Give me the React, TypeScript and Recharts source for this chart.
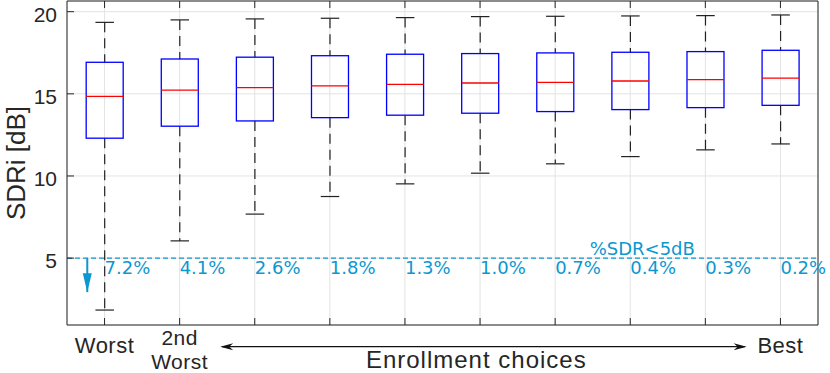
import React from 'react';
import { ComposedChart, Bar, Scatter, XAxis, YAxis, CartesianGrid, ReferenceLine } from 'recharts';

// enrollment choices, worst -> best
const CHOICES = [1, 2, 3, 4, 5, 6, 7, 8, 9, 10];
const TICK_LABELS = ['Worst', '2nd\nWorst', '', '', '', '', '', '', '', 'Best'];

// box plot stats (SDRi, dB)
const WHISKER_HI = [19.35, 19.5, 19.56, 19.6, 19.64, 19.7, 19.72, 19.74, 19.76, 19.8];
const Q3 = [16.92, 17.12, 17.23, 17.32, 17.41, 17.45, 17.49, 17.53, 17.57, 17.65];
const MEDIAN = [14.85, 15.22, 15.38, 15.48, 15.58, 15.66, 15.7, 15.78, 15.86, 15.95];
const Q1 = [12.3, 13.03, 13.35, 13.55, 13.7, 13.82, 13.92, 14.04, 14.16, 14.3];
const WHISKER_LO = [1.84, 6.05, 7.68, 8.75, 9.52, 10.17, 10.74, 11.18, 11.59, 11.95];

// share of utterances below threshold
const PCT_BELOW = ['7.2%', '4.1%', '2.6%', '1.8%', '1.3%', '1.0%', '0.7%', '0.4%', '0.3%', '0.2%'];
const THRESHOLD = 5;
const Y_TICKS = [5, 10, 15, 20];
const ARROW = [{ x: 0.77, y: 5 }, { x: 0.77, y: 2.93 }];

const AXIS = '#262626';
const CYAN = '#0b97d0';
const FONT = '"Liberation Sans", Arial, Helvetica, sans-serif';
const BOX_W = 37;

const data = CHOICES.map((c, i) => ({
  x: c,
  range: [WHISKER_LO[i], WHISKER_HI[i]],
  lo: WHISKER_LO[i],
  q1: Q1[i],
  med: MEDIAN[i],
  q3: Q3[i],
  hi: WHISKER_HI[i],
  thr: THRESHOLD,
  pct: PCT_BELOW[i],
}));

const BoxShape = (props: any) => {
  const { x, y, width, height, payload } = props;
  const top = Math.min(y, y + height);
  const bot = Math.max(y, y + height);
  const px = (v: number) => top + ((payload.hi - v) / (payload.hi - payload.lo)) * (bot - top);
  const cx = x + width / 2;
  const bx = cx - BOX_W / 2;
  const cap = BOX_W / 4;
  return (
    <g>
      <line x1={cx} x2={cx} y1={px(payload.hi)} y2={px(payload.q3)} stroke="#222" strokeWidth={1.2} strokeDasharray="10 6" />
      <line x1={cx} x2={cx} y1={px(payload.q1)} y2={px(payload.lo)} stroke="#222" strokeWidth={1.2} strokeDasharray="10 6" />
      <line x1={cx - cap} x2={cx + cap} y1={px(payload.hi)} y2={px(payload.hi)} stroke="#222" strokeWidth={1.2} />
      <line x1={cx - cap} x2={cx + cap} y1={px(payload.lo)} y2={px(payload.lo)} stroke="#222" strokeWidth={1.2} />
      <rect x={bx} y={px(payload.q3)} width={BOX_W} height={px(payload.q1) - px(payload.q3)} fill="none" stroke="#0000ff" strokeWidth={1.3} />
      <line x1={bx} x2={bx + BOX_W} y1={px(payload.med)} y2={px(payload.med)} stroke="#ff0000" strokeWidth={1.3} />
    </g>
  );
};

const PctLabel = (props: any) => (
  <text x={props.cx} y={props.cy + 16} fill={CYAN} fontSize={18} fontFamily='"DejaVu Sans", sans-serif'>
    {props.payload.pct}
  </text>
);

const ArrowHead = (props: any) => {
  const { cx, cy, index } = props;
  if (index !== 1) return <g />;
  return <polygon points={`${cx - 4.5},${cy - 19} ${cx + 4.5},${cy - 19} ${cx},${cy}`} fill={CYAN} />;
};

const LeftTick = ({ x, y, payload }: any) => (
  <g>
    <line x1={x} x2={x + 7} y1={y} y2={y} stroke={AXIS} />
    <text x={x - 10} y={y + 10} textAnchor="end" fontSize={21} fill={AXIS} fontFamily={FONT}>
      {payload.value}
    </text>
  </g>
);

const RightTick = ({ x, y }: any) => <line x1={x - 7} x2={x} y1={y} y2={y} stroke={AXIS} />;
const TopTick = ({ x, y }: any) => <line x1={x} x2={x} y1={y} y2={y + 7} stroke={AXIS} />;

const BottomTick = ({ x, y, payload }: any) => {
  const lines = TICK_LABELS[payload.value - 1].split('\n').filter((s) => s);
  const multi = lines.length > 1;
  const base = multi ? y + 20 : y + 28;
  return (
    <g>
      <line x1={x} x2={x} y1={y - 7} y2={y} stroke={AXIS} />
      {lines.length > 0 && (
        <text x={x} y={base} textAnchor="middle" fontSize={multi ? 21 : 22} letterSpacing={0.5} fill={AXIS} fontFamily={FONT}>
          {lines.map((s, i) => (
            <tspan key={i} x={x} dy={i === 0 ? 0 : 24}>
              {s}
            </tspan>
          ))}
        </text>
      )}
    </g>
  );
};

const XLabel = ({ viewBox }: any) => {
  const { x, y, width } = viewBox;
  const ay = y + 21.7;
  const l = x + width * 0.204;
  const r = x + width * 0.905;
  return (
    <g>
      <line x1={l + 2} x2={r - 2} y1={ay} y2={ay} stroke="#111" strokeWidth={1.2} />
      <polygon points={`${l},${ay} ${l + 13},${ay - 3.5} ${l + 9},${ay} ${l + 13},${ay + 3.5}`} fill="#111" />
      <polygon points={`${r},${ay} ${r - 13},${ay - 3.5} ${r - 9},${ay} ${r - 13},${ay + 3.5}`} fill="#111" />
      <text x={x + width * 0.545} y={y + 43} textAnchor="middle" fontSize={24} letterSpacing={1} fill={AXIS} fontFamily={FONT}>
        Enrollment choices
      </text>
    </g>
  );
};

const YLabel = ({ viewBox }: any) => {
  const cy = viewBox.y + viewBox.height / 2;
  return (
    <text x={25} y={cy} transform={`rotate(-90, 25, ${cy})`} textAnchor="middle" fontSize={26} fill={AXIS} fontFamily={FONT}>
      SDRi [dB]
    </text>
  );
};

const ThresholdLabel = ({ viewBox }: any) => (
  <text x={viewBox.x + viewBox.width * 0.766} y={viewBox.y - 3} textAnchor="middle" fill={CYAN} fontSize={18} fontFamily='"DejaVu Sans", sans-serif'>
    %SDR&lt;5dB
  </text>
);

export default function App() {
  return (
    <div style={{ position: 'absolute', left: 0, top: 0, background: '#fff' }}>
      <ComposedChart width={830} height={373} data={data} margin={{ top: 0, right: 0, bottom: 0, left: 0 }}>
        <CartesianGrid stroke="#e3e3e3" strokeWidth={1} />
        <XAxis
          dataKey="x"
          type="number"
          domain={[0.5, 10.5]}
          ticks={CHOICES}
          height={48}
          tickSize={0}
          tickMargin={0}
          tickLine={false}
          axisLine={{ stroke: AXIS }}
          tick={<BottomTick />}
          interval={0}
          label={XLabel}
        />
        <XAxis
          xAxisId="top"
          orientation="top"
          dataKey="x"
          type="number"
          domain={[0.5, 10.5]}
          ticks={CHOICES}
          height={1}
          tickSize={0}
          tickMargin={0}
          tickLine={false}
          axisLine={{ stroke: AXIS }}
          tick={<TopTick />}
          interval={0}
        />
        <YAxis
          type="number"
          domain={[0.93, 20.65]}
          ticks={Y_TICKS}
          width={67}
          tickSize={0}
          tickMargin={0}
          tickLine={false}
          axisLine={{ stroke: AXIS }}
          tick={<LeftTick />}
          interval={0}
          label={YLabel}
        />
        <YAxis
          yAxisId="r"
          orientation="right"
          type="number"
          domain={[0.93, 20.65]}
          ticks={Y_TICKS}
          width={12}
          tickSize={0}
          tickMargin={0}
          tickLine={false}
          axisLine={{ stroke: AXIS }}
          tick={<RightTick />}
          interval={0}
        />
        <ReferenceLine y={THRESHOLD} stroke={CYAN} strokeWidth={1.3} strokeDasharray="5 3" label={ThresholdLabel} />
        <Bar dataKey="range" barSize={BOX_W} shape={<BoxShape />} isAnimationActive={false} />
        <Scatter dataKey="thr" shape={<PctLabel />} isAnimationActive={false} />
        <Scatter data={ARROW} dataKey="y" line={{ stroke: CYAN, strokeWidth: 2 }} shape={<ArrowHead />} isAnimationActive={false} />
      </ComposedChart>
    </div>
  );
}
